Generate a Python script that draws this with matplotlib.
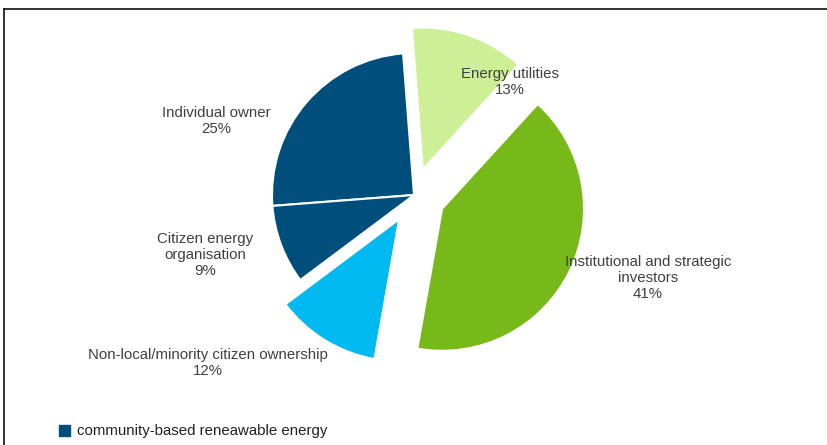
import matplotlib
matplotlib.use('agg')
import matplotlib.pyplot as plt
from matplotlib.patches import Patch
from matplotlib.lines import Line2D

plt.rcParams['font.family'] = ['Liberation Sans', 'DejaVu Sans']

# data
labels = ['Individual owner', 'Citizen energy\norganisation',
          'Non-local/minority citizen ownership',
          'Institutional and strategic\ninvestors', 'Energy utilities']
shares = [25, 9, 12, 41, 13]
colors = ['#004E7C', '#004E7C', '#00B9F0', '#77B918', '#CDF096']
explode = [0.0, 0.0, 0.2, 0.22, 0.19]
legend_label = 'community-based reneawable energy'

W, H = 827, 445
fig = plt.figure(figsize=(W / 100, H / 100), dpi=100)
ax = fig.add_axes([0, 0, 1, 1])

cx, cy, r = 414, H - 195, 142
# pie explode is in data units, so scale by the radius
ax.pie(shares, colors=colors, explode=[e * r for e in explode],
       startangle=94.4, center=(cx, cy), radius=r, frame=True,
       wedgeprops=dict(edgecolor='white', linewidth=1.5))
ax.set_xlim(0, W)
ax.set_ylim(0, H)
ax.set_aspect('auto')
ax.axis('off')

# label positions (pixels from top-left)
label_pos = [(216, 121), (205, 255), (208, 363), (648, 278), (510, 82)]
for lab, val, (x, y) in zip(labels, shares, label_pos):
    ax.text(x, H - y, f'{lab}\n{val}%', ha='center', va='center',
            fontsize=10.8, color='#404040', linespacing=1.15)

# frame lines (top and left)
fig.add_artist(Line2D([4 / W, 1], [1 - 9 / H, 1 - 9 / H], color='#222222', lw=1.3))
fig.add_artist(Line2D([4 / W, 4 / W], [0, 1 - 9 / H], color='#222222', lw=1.3))

handle = Patch(facecolor='#004E7C', edgecolor='#004E7C')
fig.legend(handles=[handle], labels=[legend_label], loc='lower left',
           bbox_to_anchor=(45 / W, -7 / H), frameon=False, fontsize=10.8,
           handlelength=0.75, handleheight=0.75, handletextpad=0.5,
           labelcolor='#222222')

fig.savefig('out.png', dpi=100)
